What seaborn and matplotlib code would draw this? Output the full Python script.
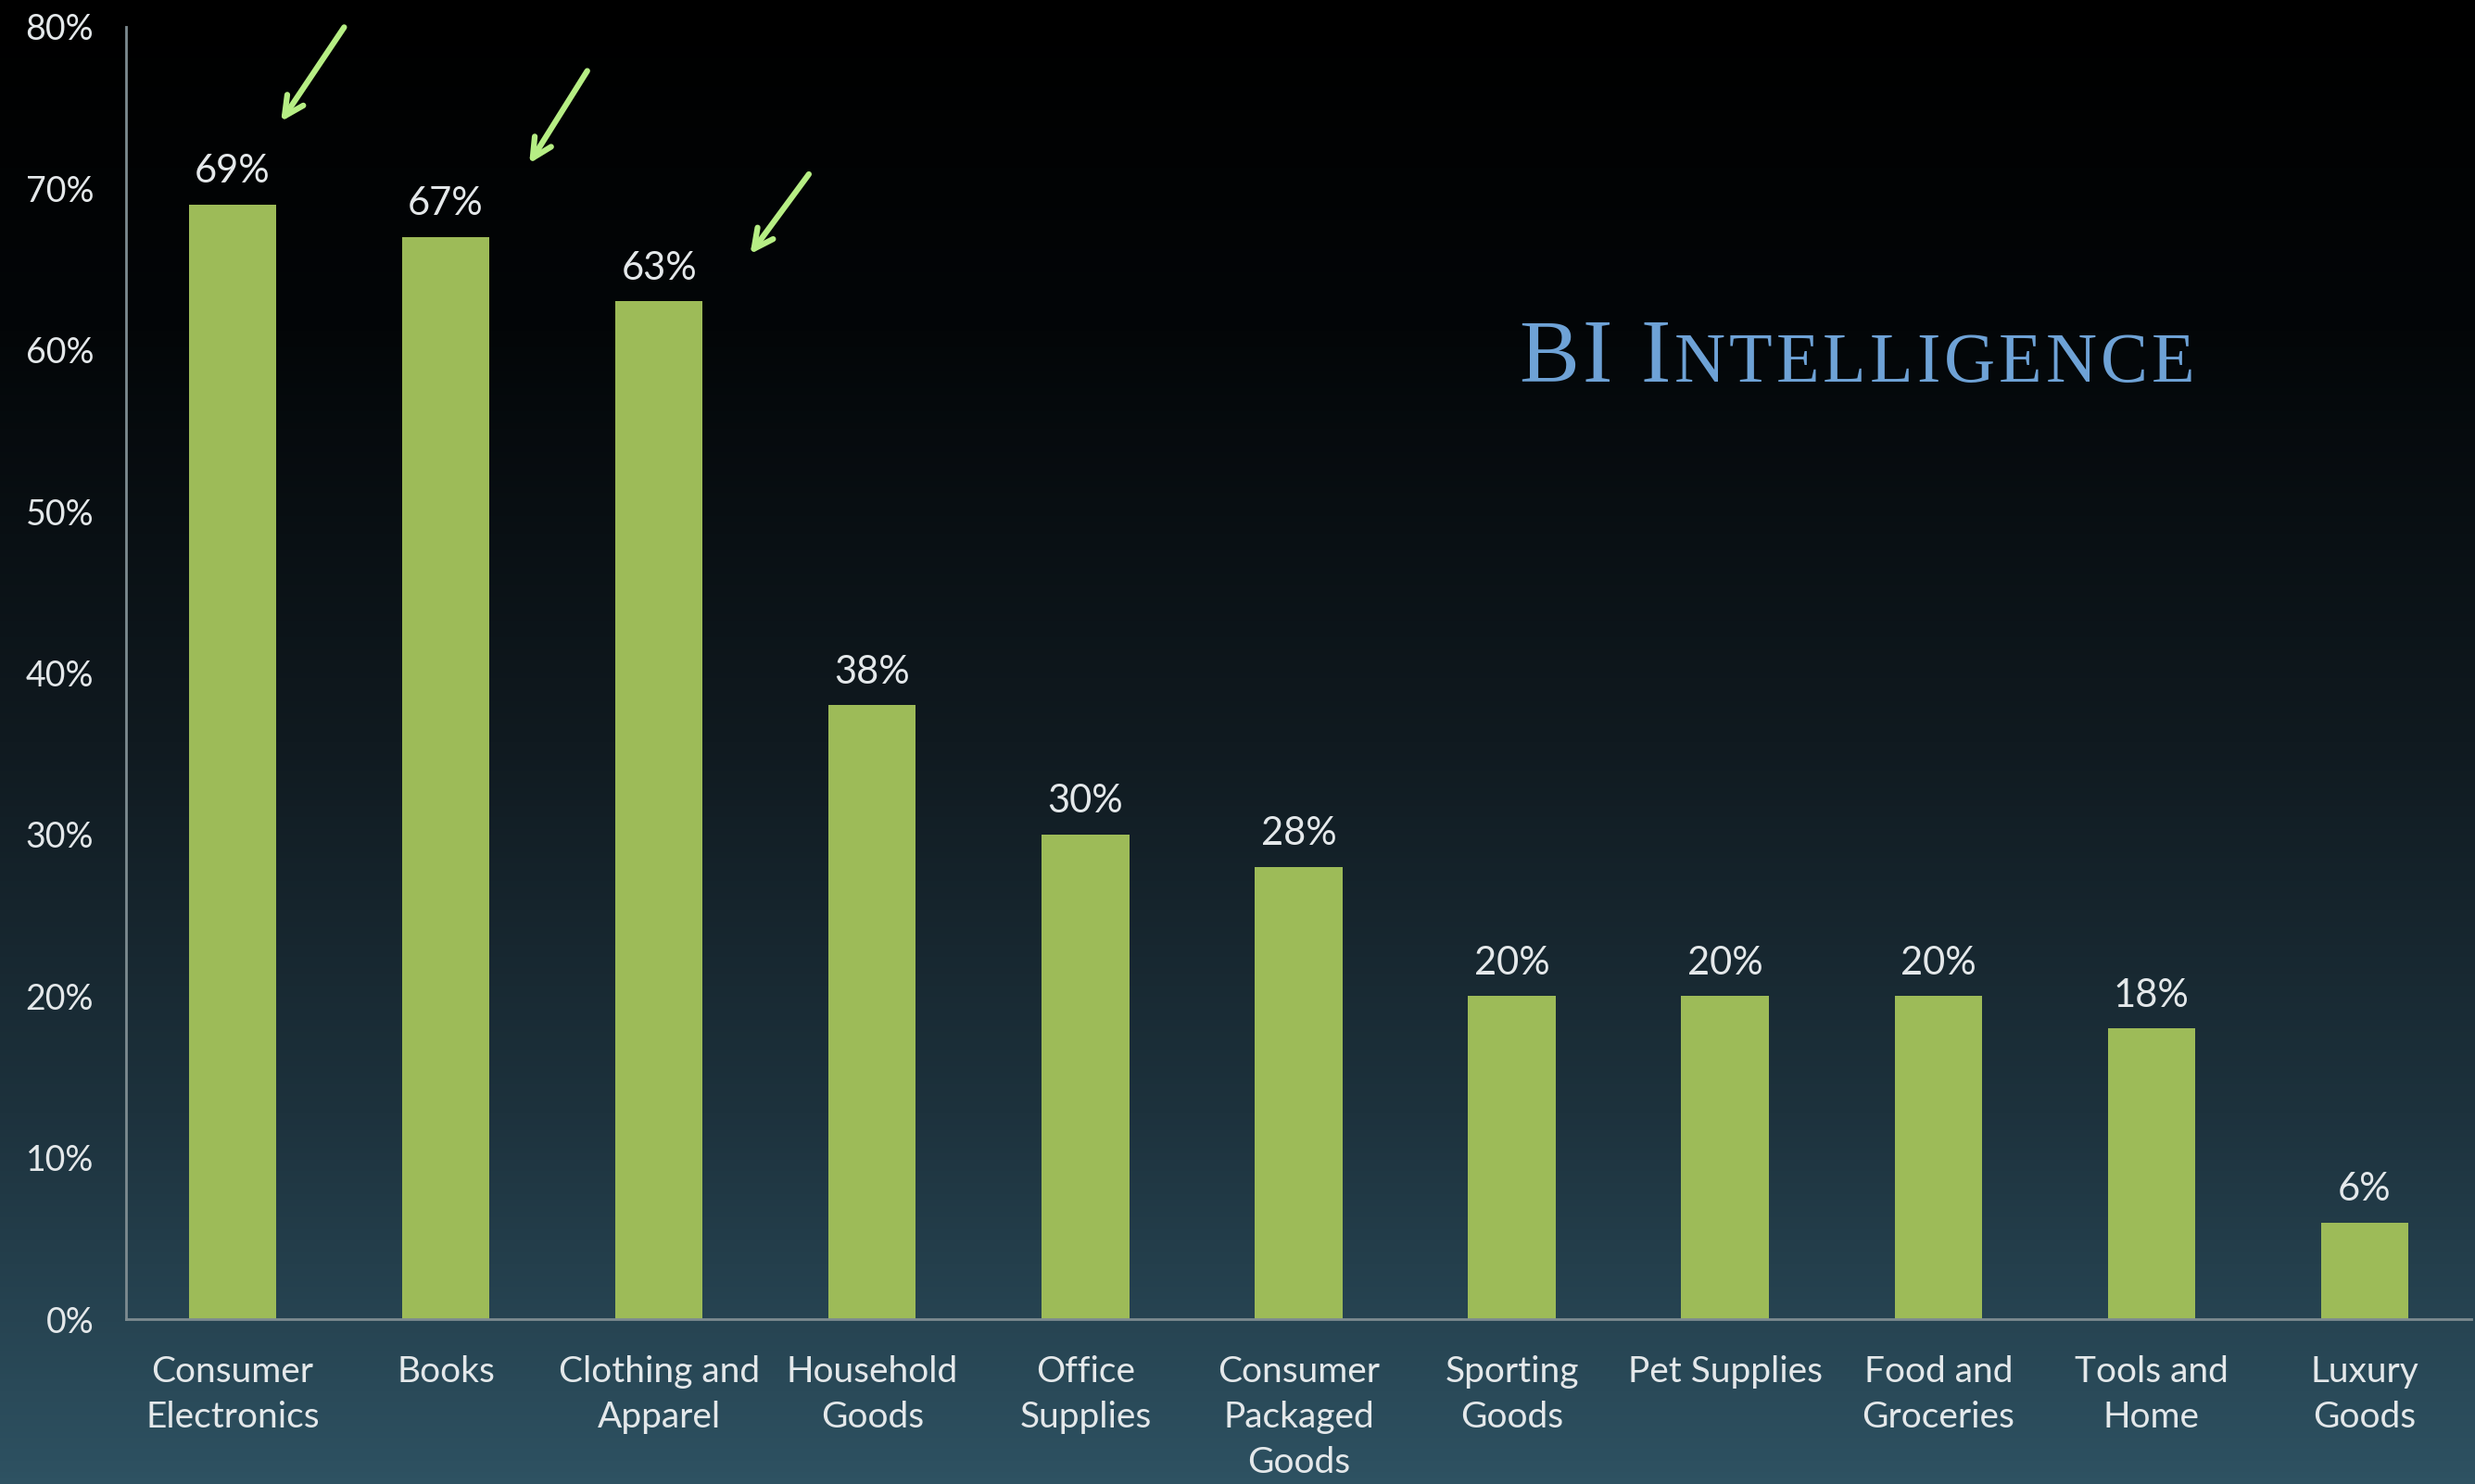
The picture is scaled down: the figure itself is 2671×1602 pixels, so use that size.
import numpy as np
import seaborn as sns
import matplotlib.pyplot as plt
from matplotlib.colors import LinearSegmentedColormap
from matplotlib.ticker import FuncFormatter

# data
categories = ["Consumer\nElectronics", "Books", "Clothing and\nApparel", "Household\nGoods",
              "Office\nSupplies", "Consumer\nPackaged\nGoods", "Sporting\nGoods", "Pet Supplies",
              "Food and\nGroceries", "Tools and\nHome", "Luxury\nGoods"]
shares = [69, 67, 63, 38, 30, 28, 20, 20, 20, 18, 6]
y_ticks = [0, 10, 20, 30, 40, 50, 60, 70, 80]

# arrows pointing at the top three bars (offsets from bar centre / bar top)
arrow_bars = [0, 1, 2]
arrow_head_dx = [0.22, 0.385, 0.42]
arrow_head_dy = [5.0, 4.4, 2.8]
arrow_tail_dx = [0.53, 0.67, 0.71]
arrow_tail_dy = [11.1, 10.4, 8.0]

BAR = "#9dbb58"
TXT = "#e4e8ea"
AXC = "#7d8b90"

sns.set_style("white")
plt.rcParams["font.family"] = ["Lato", "DejaVu Sans"]

fig = plt.figure(figsize=(26.71, 16.02), dpi=100)

# background gradient, black at top to dark teal at bottom
bg = fig.add_axes([0, 0, 1, 1])
bg_cmap = LinearSegmentedColormap.from_list(
    "bg", [(0.0, "#000000"), (0.22, "#030608"), (0.5, "#101a20"),
           (0.75, "#1d323d"), (1.0, "#2e5262")])
grad = np.linspace(0, 1, 512).reshape(-1, 1)
bg.imshow(grad, aspect="auto", cmap=bg_cmap, extent=[0, 1, 1, 0])
bg.set_axis_off()

ax = fig.add_axes([0.0509, 0.111, 0.9476, 0.871])
ax.set_facecolor("none")

sns.barplot(x=categories, y=shares, color=BAR, saturation=1, width=0.41,
            linewidth=0, edgecolor=BAR, ax=ax)

ax.set_xlim(-0.5, len(categories) - 0.5)
ax.set_ylim(0, 80)
ax.set_yticks(y_ticks)
ax.yaxis.set_major_formatter(FuncFormatter(lambda v, p: f"{v:.0f}%"))

for s in ["top", "right"]:
    ax.spines[s].set_visible(False)
for s in ["left", "bottom"]:
    ax.spines[s].set_color(AXC)
    ax.spines[s].set_linewidth(2)

ax.tick_params(axis="y", colors=AXC, labelcolor=TXT, labelsize=27, length=12, width=2, pad=13)
ax.tick_params(axis="x", which="major", length=0, labelcolor=TXT, labelsize=28, pad=28)
ax.set_xticks(np.arange(-0.5, len(categories)), minor=True)
ax.tick_params(axis="x", which="minor", length=12, width=2, colors=AXC)
for lab in ax.get_xticklabels():
    lab.set_linespacing(1.45)
ax.set_xlabel("")
ax.set_ylabel("")

ax.bar_label(ax.containers[0], labels=[f"{v}%" for v in shares],
             padding=12, color=TXT, fontsize=30)

for i, b in enumerate(arrow_bars):
    ax.annotate("", xy=(b + arrow_head_dx[i], shares[b] + arrow_head_dy[i]),
                xytext=(b + arrow_tail_dx[i], shares[b] + arrow_tail_dy[i]),
                arrowprops=dict(arrowstyle="->,head_length=1.5,head_width=0.75",
                                color="#b6ee84", lw=4.5),
                annotation_clip=False)

# "BI Intelligence" in small caps, drawn letter by letter with a little tracking
fig.canvas.draw()
renderer = fig.canvas.get_renderer()
x0 = 1639 / 2671
y0 = 1 - 412 / 1602
track = 4 / 2671
pieces = [("B", 70), ("I", 70), (" ", 70), ("I", 70)] + [(c, 55) for c in "NTELLIGENCE"]
x = x0
for txt, size in pieces:
    t = fig.text(x, y0, txt, fontsize=size, color="#6ea2d6", va="baseline", ha="left",
                 family=["Liberation Serif", "DejaVu Serif"])
    if txt == " ":
        w = 22 / 2671
    else:
        w = t.get_window_extent(renderer).width / fig.bbox.width
    x += w + track

fig.savefig("out.png", dpi=100, facecolor="black")
